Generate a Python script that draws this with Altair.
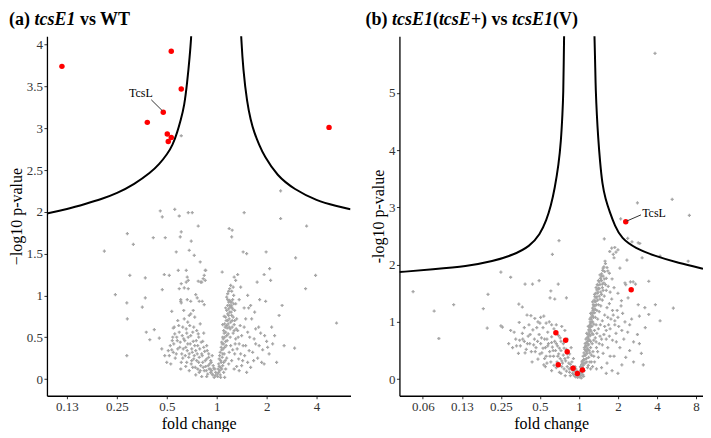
import altair as alt
import pandas as pd

# ---------------- data: log2 fold change (l) and -log10 p-value (v) ----------------
A_RED = [(-3.10, 3.74), (-0.91, 3.92), (-0.71, 3.47), (-1.07, 3.19), (-1.39, 3.07),
         (-0.99, 2.93), (-0.91, 2.89), (-0.97, 2.84), (2.25, 3.01)]
A_GREY = [
    (-2.25, 1.53), (-2.03, 1.01), (-1.79, 1.74), (-1.67, 1.61), (-1.74, 1.24), (-1.80, 0.91),
    (-1.79, 0.72), (-1.80, 0.28), (-1.43, 1.21), (-1.43, 0.97), (-1.49, 0.86), (-1.41, 0.56),
    (-1.25, 0.59), (-1.34, 0.47), (-1.15, 0.49), (-1.27, 1.69), (-1.03, 1.69), (-1.13, 2.01),
    (-1.09, 1.94), (-0.84, 2.03), (-0.75, 1.95), (-0.57, 1.99), (-0.49, 1.99), (-0.71, 1.76),
    (-0.73, 1.70), (-0.51, 1.65), (-0.81, 1.52), (-0.55, 1.54), (-0.37, 1.83), (-0.45, 1.48),
    (-0.33, 1.40), (-1.09, 1.07), (-1.05, 1.25), (-0.95, 1.24), (-0.77, 1.30), (-0.61, 1.30),
    (-0.90, 0.81), (-0.87, 0.61), (-0.72, 0.93), (-0.61, 1.16), (-0.57, 1.08), (-0.32, 1.16),
    (-0.23, 1.30), (-0.27, 1.20), (-0.22, 1.30), (-0.25, 1.24), (-0.59, 1.22), (-0.57, 1.18),
    (-0.71, 1.14), (-0.75, 1.08), (-0.65, 1.09), (-0.37, 1.17), (-0.30, 1.16), (-0.23, 1.18),
    (-0.72, 0.95), (-0.71, 0.91), (-0.59, 0.95), (-0.52, 0.93), (-0.42, 1.01), (-0.39, 0.97),
    (-0.35, 0.93), (-0.29, 0.93), (-0.25, 0.89),
    (0.11, 1.28), (0.31, 1.78), (0.25, 1.80), (0.30, 1.70), (0.55, 1.99), (0.53, 1.52),
    (0.60, 1.50), (0.99, 1.52), (1.28, 1.92), (1.06, 1.32), (0.95, 1.25), (1.08, 1.18),
    (0.81, 1.16), (0.98, 0.93), (1.31, 0.88), (1.25, 0.76), (1.16, 0.52), (1.35, 0.40),
    (1.56, 0.37), (1.80, 1.83), (1.58, 1.45), (1.98, 1.24), (1.78, 1.08), (2.40, 0.67),
    (-0.71, 2.91), (1.28, 2.25),
]
A_GREY_LEFT_ARM = [
    (-0.05, 0.02), (-0.08, 0.05), (-0.12, 0.08), (-0.03, 0.04), (-0.15, 0.12), (-0.10, 0.10),
    (-0.18, 0.06), (-0.22, 0.15), (-0.06, 0.13), (-0.25, 0.10), (-0.28, 0.20), (-0.14, 0.18),
    (-0.20, 0.24), (-0.32, 0.16), (-0.35, 0.26), (-0.30, 0.30), (-0.24, 0.33), (-0.40, 0.22),
    (-0.42, 0.34), (-0.38, 0.40), (-0.45, 0.28), (-0.50, 0.36), (-0.47, 0.45), (-0.55, 0.30),
    (-0.52, 0.52), (-0.58, 0.42), (-0.60, 0.55), (-0.62, 0.38), (-0.66, 0.48), (-0.68, 0.62),
    (-0.70, 0.30), (-0.73, 0.44), (-0.75, 0.56), (-0.78, 0.36), (-0.80, 0.50), (-0.83, 0.25),
    (-0.86, 0.42), (-0.90, 0.35), (-0.92, 0.18), (-0.95, 0.28), (-1.00, 0.20), (-0.65, 0.72),
    (-0.58, 0.68), (-0.52, 0.78), (-0.46, 0.62), (-0.44, 0.74), (-0.40, 0.58), (-0.36, 0.50),
    (-0.33, 0.66), (-0.28, 0.45), (-0.26, 0.55), (-0.20, 0.40), (-0.16, 0.30), (-0.12, 0.22),
    (-0.09, 0.28), (-0.35, 0.08), (-0.48, 0.14), (-0.60, 0.20), (-0.72, 0.12), (-0.55, 0.10),
    (-0.42, 0.05), (-0.30, 0.03), (-0.85, 0.62), (-0.78, 0.70), (-0.88, 0.50), (-0.68, 0.25),
    (-0.62, 0.15), (-0.50, 0.22), (-0.38, 0.12), (-0.20, 0.03),
    (-0.02, 0.08), (-0.04, 0.12), (-0.07, 0.16), (-0.09, 0.06), (-0.11, 0.20), (-0.13, 0.12),
    (-0.16, 0.26), (-0.17, 0.16), (-0.19, 0.34), (-0.21, 0.10), (-0.23, 0.22), (-0.26, 0.38),
    (-0.27, 0.14), (-0.29, 0.28), (-0.31, 0.44), (-0.33, 0.10), (-0.34, 0.36), (-0.36, 0.20),
    (-0.37, 0.54), (-0.39, 0.30), (-0.41, 0.46), (-0.43, 0.14), (-0.44, 0.40), (-0.46, 0.24),
    (-0.48, 0.56), (-0.49, 0.32), (-0.51, 0.18), (-0.53, 0.42), (-0.54, 0.64), (-0.56, 0.26),
    (-0.57, 0.50), (-0.59, 0.34), (-0.61, 0.60), (-0.63, 0.28), (-0.64, 0.46), (-0.67, 0.36),
    (-0.69, 0.52), (-0.71, 0.20), (-0.74, 0.38), (-0.76, 0.64), (-0.79, 0.46), (-0.81, 0.30),
    (-0.84, 0.54), (-0.87, 0.32), (-0.89, 0.46), (-0.93, 0.40), (-0.97, 0.34), (-1.04, 0.28),
    (-1.10, 0.36), (-0.66, 0.82), (-0.55, 0.76), (-0.47, 0.82),
]
A_GREY_RIGHT_ARM = [
    (0.02, 0.03), (0.04, 0.08), (0.05, 0.15), (0.07, 0.05), (0.08, 0.22), (0.06, 0.28),
    (0.10, 0.12), (0.10, 0.35), (0.12, 0.30), (0.11, 0.42), (0.13, 0.48), (0.14, 0.20),
    (0.15, 0.55), (0.16, 0.38), (0.17, 0.62), (0.18, 0.45), (0.19, 0.70), (0.20, 0.52),
    (0.21, 0.61), (0.22, 0.78), (0.23, 0.66), (0.24, 0.84), (0.25, 0.72), (0.26, 0.88),
    (0.27, 0.60), (0.28, 0.92), (0.29, 0.80), (0.30, 0.86), (0.31, 0.70), (0.32, 0.95),
    (0.22, 1.02), (0.26, 1.08), (0.30, 1.05), (0.28, 1.12), (0.34, 1.00), (0.36, 0.82),
    (0.38, 0.90), (0.35, 0.65), (0.40, 0.72), (0.33, 0.55), (0.38, 0.48), (0.42, 0.58),
    (0.28, 0.40), (0.25, 0.32), (0.32, 0.35), (0.20, 0.25), (0.18, 0.12), (0.24, 0.18),
    (0.30, 0.22), (0.36, 0.30), (0.45, 0.42), (0.50, 0.52), (0.48, 0.30), (0.55, 0.62),
    (0.58, 0.40), (0.62, 0.20), (0.66, 0.50), (0.70, 0.72), (0.72, 0.32), (0.75, 0.48),
    (0.78, 0.60), (0.82, 0.25), (0.85, 0.40), (0.88, 0.55), (0.92, 0.35), (0.95, 0.18),
    (1.00, 0.45), (1.05, 0.30), (1.10, 0.62), (0.40, 0.15), (0.45, 0.10), (0.52, 0.22),
    (0.60, 0.08), (0.35, 0.12), (0.14, 0.08), (0.16, 0.02), (0.08, 0.02), (0.12, 0.65),
    (0.18, 0.85), (0.15, 0.75), (0.38, 1.18), (0.45, 0.95), (0.48, 1.10), (0.55, 0.85),
    (0.62, 1.00), (0.68, 0.88), (0.42, 1.25), (0.35, 1.22),
    (0.01, 0.06), (0.03, 0.12), (0.04, 0.18), (0.05, 0.24), (0.06, 0.10), (0.07, 0.32),
    (0.08, 0.14), (0.09, 0.38), (0.09, 0.20), (0.10, 0.44), (0.11, 0.26), (0.12, 0.50),
    (0.12, 0.16), (0.13, 0.36), (0.14, 0.58), (0.14, 0.42), (0.15, 0.30), (0.16, 0.66),
    (0.16, 0.50), (0.17, 0.22), (0.18, 0.74), (0.18, 0.56), (0.19, 0.40), (0.20, 0.82),
    (0.20, 0.64), (0.21, 0.46), (0.22, 0.88), (0.22, 0.70), (0.23, 0.54), (0.24, 0.92),
    (0.24, 0.76), (0.25, 0.62), (0.26, 0.94), (0.26, 0.80), (0.27, 0.86), (0.27, 0.50),
    (0.28, 0.68), (0.29, 0.88), (0.30, 0.92), (0.30, 0.76), (0.31, 0.62), (0.32, 0.84),
    (0.33, 0.74), (0.34, 0.90), (0.35, 0.58), (0.36, 0.70), (0.37, 0.42), (0.39, 0.60),
    (0.41, 0.36), (0.43, 0.50), (0.44, 0.24), (0.47, 0.64), (0.50, 0.16), (0.53, 0.40),
    (0.56, 0.28), (0.62, 0.56), (0.65, 0.34), (0.68, 0.14), (0.74, 0.22), (0.78, 0.42),
    (0.84, 0.62), (0.90, 0.20), (0.96, 0.52), (1.02, 0.38), (1.12, 0.42), (1.20, 0.20),
    (0.58, 0.72), (0.64, 0.85), (0.76, 0.80), (0.86, 0.95), (0.22, 0.95), (0.20, 0.98),
    (0.24, 1.05), (0.33, 1.10),
]
A_CURVE_L = [(-3.40, 1.98), (-3.00, 2.03), (-2.60, 2.10), (-2.32, 2.15), (-2.00, 2.22),
             (-1.65, 2.33), (-1.32, 2.47), (-1.15, 2.57), (-0.99, 2.69), (-0.88, 2.80),
             (-0.79, 2.95), (-0.72, 3.10), (-0.65, 3.26), (-0.59, 3.55), (-0.54, 3.86),
             (-0.51, 4.09), (-0.50, 4.25)]
A_CURVE_R = [(0.48, 4.25), (0.49, 4.09), (0.53, 3.70), (0.61, 3.30), (0.68, 3.10),
             (0.75, 2.95), (0.85, 2.80), (0.95, 2.67), (1.21, 2.43), (1.55, 2.27),
             (2.01, 2.13), (2.40, 2.07), (2.68, 2.03)]
A_TCSL = {"text": (-1.52, 3.42), "line": (-1.31, 3.34, -1.09, 3.21)}

B_RED = [(1.20, 2.75), (1.34, 1.56), (-0.59, 0.81), (-0.34, 0.68), (-0.30, 0.48),
         (-0.53, 0.25), (-0.15, 0.19), (0.09, 0.16), (-0.04, 0.10)]
B_GREY = [
    (1.95, 5.69), (1.50, 3.08), (2.39, 3.14), (2.83, 2.86), (1.07, 2.80), (1.25, 2.46),
    (1.52, 2.38), (1.62, 2.12), (2.08, 2.15), (2.80, 2.06), (1.79, 1.71), (1.39, 1.70),
    (1.18, 1.68), (-4.25, 1.53), (-3.71, 1.19), (-3.59, 0.71), (-3.21, 1.30), (-2.45, 1.23),
    (-2.33, 1.48), (-2.35, 0.89), (-2.00, 1.87), (-1.75, 1.78), (-2.00, 0.93), (-1.96, 0.91),
    (-1.38, 1.66), (-1.19, 1.66), (-1.02, 1.72), (-0.68, 2.18), (-0.51, 2.42), (-0.72, 1.54),
    (-0.53, 1.66), (-0.62, 1.40), (-0.74, 1.42), (-0.32, 1.42), (-1.54, 1.31), (-1.45, 1.26),
    (-1.33, 1.12), (-1.23, 1.11), (-1.53, 0.99), (-1.13, 1.06), (-1.05, 1.00), (-0.98, 1.08),
    (0.65, 2.45), (0.92, 2.30), (0.95, 2.22), (0.88, 2.18), (1.00, 2.26), (0.90, 2.12),
    (0.67, 2.06), (1.23, 2.08), (1.36, 2.40), (1.56, 2.37), (1.05, 1.94), (1.20, 1.65),
    (1.32, 1.70), (1.45, 1.66), (2.42, 1.24), (2.08, 1.02), (1.12, 1.15), (1.55, 1.10),
    (1.35, 1.05), (1.00, 1.08), (0.84, 2.29), (0.79, 2.23), (0.62, 1.94), (0.74, 1.89),
    (0.58, 1.80), (0.47, 1.65), (1.09, 1.37), (1.26, 1.42), (1.52, 1.30), (1.69, 1.25),
    (1.79, 1.13), (1.96, 1.30),
]
B_GREY_RIGHT_ARM = [
    (0.02, 0.04), (0.05, 0.10), (0.06, 0.02), (0.08, 0.18), (0.10, 0.08), (0.10, 0.26),
    (0.12, 0.34), (0.14, 0.15), (0.15, 0.42), (0.16, 0.28), (0.18, 0.50), (0.19, 0.36),
    (0.20, 0.58), (0.21, 0.45), (0.22, 0.66), (0.23, 0.52), (0.24, 0.74), (0.25, 0.60),
    (0.26, 0.82), (0.27, 0.68), (0.28, 0.90), (0.29, 0.76), (0.30, 0.98), (0.31, 0.84),
    (0.32, 1.05), (0.33, 0.92), (0.34, 1.12), (0.35, 1.00), (0.36, 1.20), (0.37, 1.08),
    (0.38, 1.28), (0.40, 1.16), (0.41, 1.35), (0.42, 1.22), (0.44, 1.42), (0.45, 1.30),
    (0.47, 1.50), (0.48, 1.38), (0.50, 1.58), (0.52, 1.45), (0.54, 1.65), (0.56, 1.52),
    (0.58, 1.72), (0.60, 1.60), (0.62, 1.80), (0.64, 1.68), (0.66, 1.88), (0.70, 1.76),
    (0.72, 1.95), (0.24, 0.92), (0.20, 0.80), (0.18, 0.70), (0.16, 0.62), (0.14, 0.55),
    (0.30, 1.15), (0.28, 1.05), (0.35, 1.35), (0.40, 1.48), (0.44, 1.60), (0.50, 1.72),
    (0.54, 1.82), (0.36, 0.78), (0.40, 0.85), (0.44, 0.95), (0.48, 1.05), (0.52, 1.18),
    (0.56, 1.28), (0.60, 1.38), (0.65, 1.45), (0.70, 1.55), (0.75, 1.62), (0.80, 1.52),
    (0.30, 0.55), (0.34, 0.62), (0.38, 0.68), (0.42, 0.72), (0.46, 0.80), (0.50, 0.88),
    (0.55, 0.95), (0.60, 1.02), (0.66, 1.12), (0.72, 1.25), (0.78, 1.32), (0.84, 1.40),
    (0.25, 0.38), (0.28, 0.30), (0.32, 0.42), (0.36, 0.48), (0.45, 0.55), (0.52, 0.62),
    (0.58, 0.70), (0.64, 0.78), (0.70, 0.85), (0.76, 0.95), (0.82, 1.05), (0.88, 1.12),
    (0.22, 0.20), (0.30, 0.18), (0.40, 0.30), (0.50, 0.38), (0.62, 0.45), (0.74, 0.55),
    (0.86, 0.68), (0.95, 0.80), (1.02, 0.92), (0.58, 0.20), (0.72, 0.28), (0.90, 0.40),
    (1.05, 0.55), (1.15, 0.70), (1.25, 0.82), (1.30, 0.50), (1.40, 0.65), (1.50, 0.78),
    (1.60, 0.45), (1.70, 0.90), (1.10, 0.25), (1.20, 0.38), (0.85, 0.15), (1.00, 0.10),
    (0.78, 0.75), (0.92, 0.95), (0.98, 1.20), (1.08, 1.28), (0.06, 0.14), (0.04, 0.22),
    (0.12, 0.05), (0.08, 0.30), (0.85, 1.75), (0.78, 1.85), (0.90, 1.60), (1.00, 1.50),
    (0.01, 0.08), (0.03, 0.14), (0.04, 0.06), (0.05, 0.20), (0.07, 0.26), (0.07, 0.12),
    (0.09, 0.32), (0.09, 0.20), (0.11, 0.40), (0.11, 0.24), (0.13, 0.46), (0.13, 0.28),
    (0.15, 0.52), (0.15, 0.34), (0.17, 0.58), (0.17, 0.42), (0.19, 0.64), (0.19, 0.48),
    (0.21, 0.72), (0.21, 0.54), (0.23, 0.78), (0.23, 0.62), (0.25, 0.86), (0.25, 0.70),
    (0.27, 0.94), (0.27, 0.78), (0.29, 1.00), (0.29, 0.86), (0.31, 1.08), (0.31, 0.94),
    (0.33, 1.16), (0.33, 1.00), (0.35, 1.24), (0.35, 1.10), (0.37, 1.30), (0.37, 1.16),
    (0.39, 1.38), (0.39, 1.22), (0.41, 1.44), (0.41, 1.28), (0.43, 1.50), (0.43, 1.36),
    (0.46, 1.56), (0.46, 1.44), (0.49, 1.64), (0.49, 1.52), (0.52, 1.70), (0.52, 1.58),
    (0.55, 1.76), (0.58, 1.84), (0.61, 1.90), (0.64, 1.96), (0.68, 2.02), (0.60, 1.66),
    (0.65, 1.75), (0.26, 0.50), (0.30, 0.66), (0.34, 0.80), (0.38, 0.96), (0.42, 1.08),
    (0.46, 1.20), (0.50, 1.30), (0.54, 1.40), (0.58, 1.48), (0.62, 1.55), (0.68, 1.65),
    (0.20, 0.30), (0.24, 0.24), (0.28, 0.46), (0.32, 0.30), (0.38, 0.40), (0.44, 0.65),
    (0.48, 0.48), (0.54, 0.75), (0.60, 0.60), (0.66, 0.92), (0.70, 0.70), (0.74, 1.08),
    (0.80, 0.88), (0.86, 1.20), (0.92, 1.02), (0.96, 0.65), (0.80, 0.40), (1.10, 0.85),
    (1.18, 1.00), (1.30, 0.95), (1.40, 0.30), (1.55, 0.62), (1.65, 0.25), (0.70, 0.10),
    (0.45, 0.18), (0.35, 0.22),
]
B_GREY_LEFT_ARM = [
    (-0.03, 0.03), (-0.06, 0.08), (-0.10, 0.05), (-0.12, 0.14), (-0.08, 0.18), (-0.16, 0.10),
    (-0.20, 0.20), (-0.18, 0.30), (-0.24, 0.12), (-0.26, 0.28), (-0.30, 0.22), (-0.28, 0.38),
    (-0.34, 0.32), (-0.38, 0.18), (-0.40, 0.42), (-0.42, 0.28), (-0.46, 0.50), (-0.48, 0.36),
    (-0.52, 0.44), (-0.55, 0.58), (-0.56, 0.30), (-0.60, 0.50), (-0.62, 0.66), (-0.65, 0.40),
    (-0.68, 0.56), (-0.70, 0.74), (-0.72, 0.30), (-0.75, 0.48), (-0.78, 0.62), (-0.80, 0.82),
    (-0.84, 0.40), (-0.86, 0.55), (-0.88, 0.70), (-0.92, 0.90), (-0.95, 0.46), (-0.98, 0.62),
    (-1.02, 0.78), (-1.05, 0.35), (-1.10, 0.55), (-1.14, 0.70), (-1.18, 0.86), (-1.22, 0.48),
    (-1.26, 0.62), (-1.30, 0.75), (-1.35, 0.52), (-1.40, 0.66), (-1.45, 0.80), (-1.50, 0.58),
    (-1.55, 0.45), (-1.62, 0.70), (-1.70, 0.55), (-1.75, 0.85), (-1.80, 0.62), (-1.20, 0.30),
    (-0.90, 0.25), (-0.70, 0.15), (-0.50, 0.12), (-0.35, 0.06), (-0.44, 0.22), (-0.58, 0.20),
    (-0.82, 0.28), (-0.64, 0.88), (-0.58, 0.95), (-0.76, 1.00), (-0.48, 0.72), (-0.40, 0.62),
    (-0.32, 0.52), (-0.24, 0.44), (-0.14, 0.36), (-0.20, 0.55), (-0.30, 0.70), (-0.36, 0.85),
    (-0.44, 0.92), (-0.90, 1.10), (-1.00, 0.98), (-0.15, 0.22), (-0.05, 0.14), (-0.22, 0.06),
    (-0.02, 0.06), (-0.05, 0.12), (-0.08, 0.04), (-0.10, 0.22), (-0.14, 0.08), (-0.17, 0.16),
    (-0.22, 0.26), (-0.25, 0.18), (-0.32, 0.14), (-0.36, 0.36), (-0.44, 0.32), (-0.50, 0.54),
    (-0.54, 0.40), (-0.58, 0.62), (-0.66, 0.50), (-0.70, 0.64), (-0.74, 0.40), (-0.80, 0.58),
    (-0.82, 0.70), (-0.88, 0.36), (-0.92, 0.54), (-0.96, 0.72), (-1.00, 0.44), (-1.06, 0.66),
    (-1.12, 0.48), (-1.16, 0.60), (-1.25, 0.78), (-1.32, 0.62), (-1.38, 0.46), (-1.44, 0.70),
    (-1.52, 0.68), (-1.60, 0.58), (-1.66, 0.82), (-1.40, 0.90), (-1.28, 0.95), (-0.86, 0.22),
    (-0.64, 0.24), (-0.46, 0.10), (-0.30, 0.44), (-0.38, 0.54), (-0.46, 0.66), (-0.52, 0.76),
    (-0.70, 0.95), (-0.84, 0.98), (-1.08, 0.90),
]
B_CURVE_L = [(-4.60, 1.87), (-3.74, 1.92), (-2.88, 1.97), (-2.20, 2.06), (-1.68, 2.17),
             (-1.26, 2.32), (-1.00, 2.52), (-0.83, 2.78), (-0.72, 3.02), (-0.62, 3.33),
             (-0.52, 3.75), (-0.46, 4.15), (-0.42, 4.65), (-0.40, 5.00), (-0.39, 5.50),
             (-0.38, 6.00), (-0.375, 6.20)]
B_CURVE_R = [(0.39, 6.20), (0.40, 5.97), (0.42, 5.40), (0.43, 5.06), (0.46, 4.60),
             (0.49, 4.25), (0.54, 3.80), (0.60, 3.40), (0.68, 3.15), (0.79, 2.92),
             (0.92, 2.68), (1.09, 2.46), (1.44, 2.29), (1.95, 2.15), (2.55, 2.03),
             (3.18, 1.93)]
B_TCSL = {"text": (1.62, 2.91), "line": (1.22, 2.76, 1.59, 2.87)}

A_XTICKS = [-3, -2, -1, 0, 1, 2]
A_XLABELS = ["0.13", "0.25", "0.5", "1", "2", "4"]
B_XTICKS = [-4, -3, -2, -1, 0, 1, 2, 3]
B_XLABELS = ["0.06", "0.13", "0.25", "0.5", "1", "2", "4", "8"]
A_YTICKS = [0, 0.5, 1, 1.5, 2, 2.5, 3, 3.5, 4]
B_YTICKS = [0, 1, 2, 3, 4, 5]

# title segments: (text, italic, x offset from plot left)
A_TITLE = [("(a)", False, -38), ("tcsE1", True, -12.5), ("vs WT", False, 33)]
B_TITLE = [("(b)", False, -34), ("tcsE1", True, -7.5), ("(", False, 33.5), ("tcsE+", True, 39.5),
           (")", False, 81.8), ("vs", False, 92.3), ("tcsE1", True, 112.8), ("(V)", False, 153.8)]

SERIF = "Liberation Serif"


def label_expr(ticks, labels):
    expr = "''"
    for t, s in reversed(list(zip(ticks, labels))):
        expr = f"datum.value == {t} ? '{s}' : ({expr})"
    return expr


AXIS_STYLE = dict(labelFont=SERIF, labelFontSize=13, labelColor="#333333", labelPadding=1.5,
                  titleFont=SERIF, titleFontSize=16, titleFontWeight="normal",
                  titleColor="black", titlePadding=2, domainColor="black", domainWidth=1.3,
                  tickColor="#333333", tickSize=3, tickWidth=1, grid=False)


def panel(grey, red, curve_l, curve_r, tcsl, xdom, ydom, xticks, xlabels, yticks, ytitle, title):
    x = alt.X("l:Q", scale=alt.Scale(domain=xdom, nice=False, zero=False),
              axis=alt.Axis(values=xticks, labelExpr=label_expr(xticks, xlabels),
                            title="fold change", **AXIS_STYLE))
    y = alt.Y("v:Q", scale=alt.Scale(domain=ydom, nice=False, zero=False),
              axis=alt.Axis(values=yticks, format="~g", title=ytitle, **AXIS_STYLE))

    g = pd.DataFrame(grey, columns=["l", "v"])
    r = pd.DataFrame(red, columns=["l", "v"])
    cl = pd.DataFrame(curve_l, columns=["l", "v"]).assign(side="L")
    cr = pd.DataFrame(curve_r, columns=["l", "v"]).assign(side="R")
    curves = pd.concat([cl, cr], ignore_index=True)
    tx = pd.DataFrame([{"l": tcsl["text"][0], "v": tcsl["text"][1], "t": "TcsL"}])
    ln = pd.DataFrame([{"l": tcsl["line"][0], "v": tcsl["line"][1],
                        "l2": tcsl["line"][2], "v2": tcsl["line"][3]}])

    layers = [
        alt.Chart(g).mark_point(shape="cross", filled=True, size=10, color="#a6a6a6",
                                opacity=1).encode(x=x, y=y),
        alt.Chart(curves).mark_line(color="black", strokeWidth=2, clip=True,
                                    interpolate="basis").encode(x=x, y=y, detail="side:N"),
        alt.Chart(r).mark_circle(size=30, color="#ff0000", opacity=1).encode(x=x, y=y),
        alt.Chart(ln).mark_rule(color="#333333", strokeWidth=1).encode(
            x=x, y=y, x2="l2:Q", y2="v2:Q"),
        alt.Chart(tx).mark_text(font=SERIF, fontSize=12, color="black",
                                align="center" if tcsl["text"][0] < 0 else "left",
                                baseline="middle").encode(x=x, y=y, text="t:N"),
    ]
    for txt, ital, dx in title:
        layers.append(
            alt.Chart(pd.DataFrame({"t": [txt]})).mark_text(
                font=SERIF, fontSize=18, fontWeight="bold",
                fontStyle="italic" if ital else "normal", align="left",
                baseline="alphabetic", color="black"
            ).encode(text="t:N", x=alt.value(dx), y=alt.value(-11))
        )
    return alt.layer(*layers).properties(width=304, height=360)


pa = panel(A_GREY + A_GREY_LEFT_ARM + A_GREY_RIGHT_ARM, A_RED, A_CURVE_L, A_CURVE_R, A_TCSL,
           [-3.4, 2.68], [-0.2, 4.1], A_XTICKS, A_XLABELS, A_YTICKS, "\u2212log10 p-value",
           A_TITLE)
pb = panel(B_GREY + B_GREY_LEFT_ARM + B_GREY_RIGHT_ARM, B_RED, B_CURVE_L, B_CURVE_R, B_TCSL,
           [-4.6, 3.18], [-0.29, 5.99], B_XTICKS, B_XLABELS, B_YTICKS, "-log10 p-value",
           B_TITLE)

chart = alt.hconcat(pa, pb, spacing=49, bounds="flush").properties(
    padding={"left": 0, "top": 3, "right": 0, "bottom": 0}
).configure_view(stroke=None).configure_axis(**AXIS_STYLE)

chart.save("out.html", embed_options={"renderer": "svg", "actions": False})
